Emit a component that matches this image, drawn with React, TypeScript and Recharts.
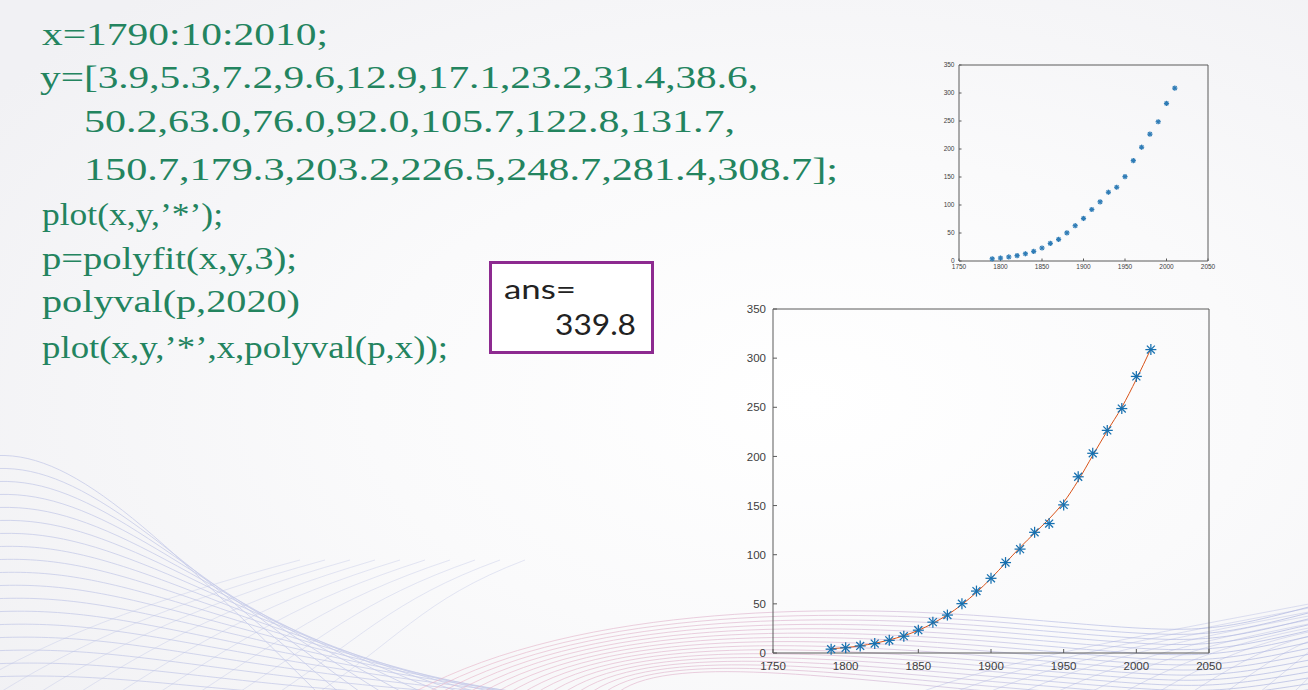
import React from "react";
import {
  ComposedChart,
  Scatter,
  Line,
  XAxis,
  YAxis,
} from "recharts";

// ---------------------------------------------------------------------------
// Data (US census, millions)
// ---------------------------------------------------------------------------

const YEARS = [
  1790, 1800, 1810, 1820, 1830, 1840, 1850, 1860, 1870, 1880, 1890, 1900,
  1910, 1920, 1930, 1940, 1950, 1960, 1970, 1980, 1990, 2000, 2010,
];
const POP = [
  3.9, 5.3, 7.2, 9.6, 12.9, 17.1, 23.2, 31.4, 38.6, 50.2, 63.0, 76.0, 92.0,
  105.7, 122.8, 131.7, 150.7, 179.3, 203.2, 226.5, 248.7, 281.4, 308.7,
];
// cubic fit curve
const FIT = [
  4.3, 5.5, 7.3, 9.9, 13.3, 17.6, 23.0, 30.2, 38.8, 49.3, 61.7, 75.9, 91.6,
  107.4, 122.0, 136.5, 153.4, 175.5, 201.0, 226.0, 250.0, 278.5, 309.5,
];
const X_TICKS = [1750, 1800, 1850, 1900, 1950, 2000, 2050];
const Y_TICKS = [0, 50, 100, 150, 200, 250, 300, 350];

const CODE_LINES = [
  "x=1790:10:2010;",
  "y=[3.9,5.3,7.2,9.6,12.9,17.1,23.2,31.4,38.6,",
  "50.2,63.0,76.0,92.0,105.7,122.8,131.7,",
  "150.7,179.3,203.2,226.5,248.7,281.4,308.7];",
  "plot(x,y,\u2019*\u2019);",
  "p=polyfit(x,y,3);",
  "polyval(p,2020)",
  "plot(x,y,\u2019*\u2019,x,polyval(p,x));",
];
// [x, baseline, width]
const CODE_LAYOUT: [number, number, number][] = [
  [42, 45, 286],
  [40, 88, 718],
  [84, 132, 651],
  [84, 180, 754],
  [42, 225, 181],
  [42, 269, 255],
  [42, 312, 258],
  [42, 358, 406],
];

const popData = YEARS.map((x, i) => ({ x, y: POP[i] }));
const fitData = YEARS.map((x, i) => ({ x, y: FIT[i] }));

const AXIS_COLOR = "#5a5a5a";
const LABEL_COLOR = "#3d3d3d";

// ---------------------------------------------------------------------------
// Markers
// ---------------------------------------------------------------------------

function makeAsterisk(r: number, w: number, color: string) {
  return (props: any) => {
    const { cx, cy } = props;
    if (cx == null || cy == null) return <g />;
    const d = r * 0.72;
    return (
      <g stroke={color} strokeWidth={w}>
        <line x1={cx - r} y1={cy} x2={cx + r} y2={cy} />
        <line x1={cx} y1={cy - r} x2={cx} y2={cy + r} />
        <line x1={cx - d} y1={cy - d} x2={cx + d} y2={cy + d} />
        <line x1={cx - d} y1={cy + d} x2={cx + d} y2={cy - d} />
      </g>
    );
  };
}

const BigStar = makeAsterisk(5.5, 1.25, "#1670b0");
const SmallStar = makeAsterisk(2.6, 1.3, "#2f7cb6");

// ---------------------------------------------------------------------------
// MATLAB-style box plot
// ---------------------------------------------------------------------------

interface PlotProps {
  width: number;
  height: number;
  margin: { top: number; right: number; bottom: number; left: number };
  yWidth: number;
  xHeight: number;
  fontSize: number;
  tickLen: number;
  xMargin: number;
  yMargin: number;
  star: (p: any) => React.ReactElement;
  withFit: boolean;
}

function MatlabPlot(p: PlotProps) {
  const tickStyle = {
    fill: LABEL_COLOR,
    fontSize: p.fontSize,
    fontFamily: "'Liberation Sans', Arial, sans-serif",
  };
  const blank = () => "";
  return (
    <ComposedChart width={p.width} height={p.height} margin={p.margin}>
      <XAxis
        xAxisId="b"
        type="number"
        dataKey="x"
        domain={[1750, 2050]}
        ticks={X_TICKS}
        height={p.xHeight}
        tickSize={-p.tickLen}
        tickMargin={p.xMargin}
        stroke={AXIS_COLOR}
        tick={tickStyle}
        interval={0}
      />
      <XAxis
        xAxisId="t"
        orientation="top"
        type="number"
        dataKey="x"
        domain={[1750, 2050]}
        ticks={X_TICKS}
        height={1}
        tickSize={-p.tickLen}
        stroke={AXIS_COLOR}
        tickFormatter={blank}
        interval={0}
      />
      <YAxis
        yAxisId="l"
        type="number"
        domain={[0, 350]}
        ticks={Y_TICKS}
        width={p.yWidth}
        tickSize={-p.tickLen}
        tickMargin={p.yMargin}
        stroke={AXIS_COLOR}
        tick={tickStyle}
        interval={0}
      />
      <YAxis
        yAxisId="r"
        orientation="right"
        type="number"
        domain={[0, 350]}
        ticks={Y_TICKS}
        width={1}
        tickSize={-p.tickLen}
        stroke={AXIS_COLOR}
        tickFormatter={blank}
        interval={0}
      />
      <Scatter
        xAxisId="b"
        yAxisId="l"
        data={popData}
        dataKey="y"
        shape={p.star}
        isAnimationActive={false}
      />
      {p.withFit && (
        <Line
          xAxisId="b"
          yAxisId="l"
          data={fitData}
          dataKey="y"
          type="monotone"
          stroke="#D95319"
          strokeWidth={1}
          dot={false}
          activeDot={false}
          isAnimationActive={false}
        />
      )}
    </ComposedChart>
  );
}

// ---------------------------------------------------------------------------
// Slide background waves (decoration only)
// ---------------------------------------------------------------------------

function Waves() {
  const left = Array.from({ length: 18 }, (_, k) => {
    const y0 = 456 + k * 13;
    return `M -10 ${y0} C ${70 + k * 6} ${y0 - 8}, ${150 + k * 6} ${y0 + 70 - k * 2}, ${330 + k * 24} 705`;
  });
  const cross = Array.from({ length: 10 }, (_, k) => {
    return `M ${-60 + k * 40} 705 C ${40 + k * 40} 640, ${150 + k * 30} 600, ${300 + k * 25} 560`;
  });
  const bottom = Array.from({ length: 16 }, (_, k) => {
    return `M ${400 + k * 14} 700 C ${560 + k * 6} ${606 + k * 3}, ${820} ${602 + k * 5}, ${1010} ${618 + k * 5} S ${1200} ${636 + k * 5}, ${1320} ${604 + k * 6}`;
  });
  const mesh = Array.from({ length: 12 }, (_, k) => {
    return `M ${900 + k * 35} 700 C ${1000 + k * 30} 660, ${1120 + k * 20} 640, ${1330} ${600 + k * 4}`;
  });
  return (
    <svg
      width={1308}
      height={690}
      style={{ position: "absolute", left: 0, top: 0 }}
    >
      <defs>
        <linearGradient id="wv" gradientUnits="userSpaceOnUse" x1={420} y1={0} x2={1300} y2={0}>
          <stop offset="0" stopColor="#eab0c4" />
          <stop offset="0.45" stopColor="#d8a8c8" />
          <stop offset="0.7" stopColor="#aeb4e2" />
          <stop offset="1" stopColor="#9ea8dc" />
        </linearGradient>
      </defs>
      <g fill="none" stroke="#b9bfe4" strokeWidth={0.8} opacity={0.75}>
        {left.map((d, i) => (
          <path key={"l" + i} d={d} />
        ))}
      </g>
      <g fill="none" stroke="#c3c8e8" strokeWidth={0.7} opacity={0.6}>
        {cross.map((d, i) => (
          <path key={"c" + i} d={d} />
        ))}
      </g>
      <g fill="none" stroke="url(#wv)" strokeWidth={0.8} opacity={0.7}>
        {bottom.map((d, i) => (
          <path key={"b" + i} d={d} />
        ))}
      </g>
      <g fill="none" stroke="#b3b9e2" strokeWidth={0.7} opacity={0.6}>
        {mesh.map((d, i) => (
          <path key={"m" + i} d={d} />
        ))}
      </g>
    </svg>
  );
}

// ---------------------------------------------------------------------------
// App
// ---------------------------------------------------------------------------

export default function App() {
  return (
    <div
      style={{
        position: "absolute",
        left: 0,
        top: 0,
        width: 1308,
        height: 690,
        overflow: "hidden",
        background:
          "radial-gradient(ellipse 75% 80% at 62% 58%, #ffffff 0%, #fafafb 45%, #f1f1f4 100%)",
      }}
    >
      <Waves />

      <svg
        width={1308}
        height={690}
        style={{ position: "absolute", left: 0, top: 0 }}
      >
        {CODE_LINES.map((t, i) => {
          const [x, y, w] = CODE_LAYOUT[i];
          return (
            <text
              key={i}
              x={x}
              y={y}
              textLength={w}
              lengthAdjust="spacingAndGlyphs"
              fill="#23845f"
              fontSize={32}
              fontFamily="'Liberation Serif', 'Times New Roman', serif"
            >
              {t}
            </text>
          );
        })}
      </svg>

      <div
        style={{
          position: "absolute",
          left: 489,
          top: 261,
          width: 159,
          height: 87,
          border: "3px solid #8d2a90",
          background: "#ffffff",
        }}
      >
        <svg width={159} height={87} style={{ display: "block" }}>
          <text
            x={12}
            y={35}
            textLength={72}
            lengthAdjust="spacingAndGlyphs"
            fill="#222"
            fontSize={27}
            fontFamily="Lato, 'Open Sans', sans-serif"
          >
            ans=
          </text>
          <text
            x={63}
            y={71}
            textLength={81}
            lengthAdjust="spacingAndGlyphs"
            fill="#222"
            fontSize={28}
            fontFamily="Lato, 'Open Sans', sans-serif"
          >
            339.8
          </text>
        </svg>
      </div>

      <div style={{ position: "absolute", left: 925, top: 55 }}>
        <MatlabPlot
          width={300}
          height={225}
          margin={{ top: 9, right: 16, bottom: 5, left: 4 }}
          yWidth={30}
          xHeight={14}
          fontSize={6.5}
          tickLen={2.5}
          xMargin={6}
          yMargin={7}
          star={SmallStar}
          withFit={false}
        />
      </div>

      <div style={{ position: "absolute", left: 720, top: 295 }}>
        <MatlabPlot
          width={510}
          height={395}
          margin={{ top: 13, right: 20, bottom: 7, left: 8 }}
          yWidth={45}
          xHeight={30}
          fontSize={11.5}
          tickLen={4}
          xMargin={13}
          yMargin={11}
          star={BigStar}
          withFit={true}
        />
      </div>
    </div>
  );
}
